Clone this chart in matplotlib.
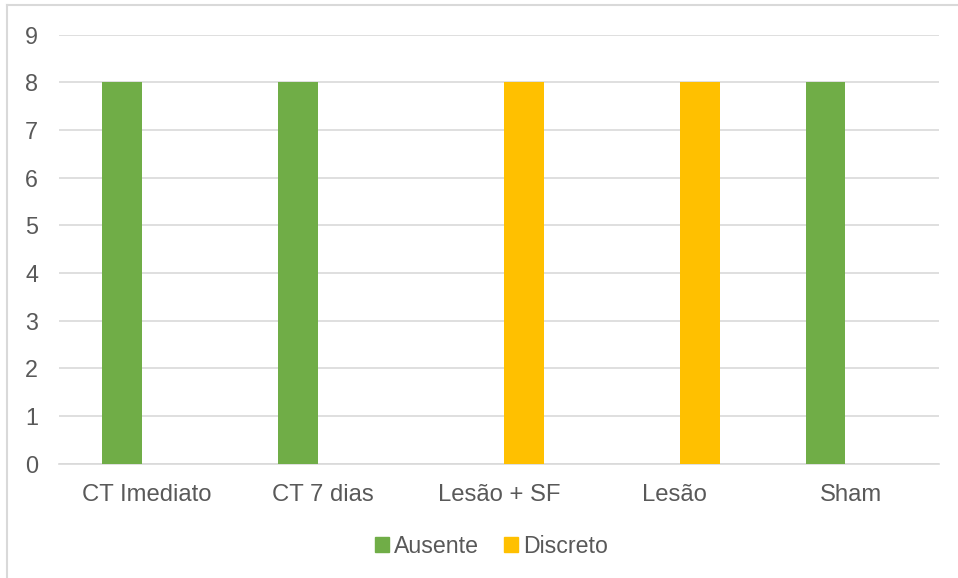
import matplotlib.pyplot as plt
import numpy as np
from matplotlib.lines import Line2D
from matplotlib.patches import Patch

categories = ['CT Imediato', 'CT 7 dias', 'Lesão + SF', 'Lesão', 'Sham']
ausente = [8, 8, 0, 0, 8]
discreto = [0, 0, 8, 8, 0]

plt.rcParams['font.family'] = ['Liberation Sans', 'DejaVu Sans']

GREEN = '#70AD47'
YELLOW = '#FFC000'
GRID = '#D9D9D9'
TEXT = '#595959'

fig = plt.figure(figsize=(9.58, 5.78), dpi=100)
ax = fig.add_axes([0.0616, 0.198, 0.9184, 0.742])

x = np.arange(len(categories))
width = 0.225
ax.bar(x - 0.143, ausente, width, color=GREEN, label='Ausente', zorder=3)
ax.bar(x + 0.143, discreto, width, color=YELLOW, label='Discreto', zorder=3)

ax.set_xlim(-0.5, len(categories) - 0.5)
ax.set_ylim(0, 9)
ax.set_yticks(range(0, 10))
ax.set_xticks(x)
ax.set_xticklabels(categories)
ax.yaxis.grid(True, color=GRID, linewidth=1.2, zorder=0)
ax.tick_params(axis='both', length=0, labelcolor=TEXT)
ax.tick_params(axis='y', pad=15, labelsize=16.8)
ax.tick_params(axis='x', pad=15, labelsize=17.2)
for side in ['top', 'right', 'left']:
    ax.spines[side].set_visible(False)
ax.spines['bottom'].set_color(GRID)
ax.spines['bottom'].set_linewidth(1.2)

handles = [Patch(color=GREEN, label='Ausente'), Patch(color=YELLOW, label='Discreto')]
leg = fig.legend(handles=handles, loc='center', bbox_to_anchor=(0.513, 0.055), ncol=2,
                 frameon=False, fontsize=16.7, handlelength=0.6, handleheight=0.6,
                 handletextpad=0.2, columnspacing=1.1)
for t in leg.get_texts():
    t.set_color(TEXT)

# chart area outline (top and left edges)
fig.add_artist(Line2D([0.0076, 1.0], [0.9905, 0.9905], color=GRID, linewidth=1.5))
fig.add_artist(Line2D([0.0076, 0.0076], [0.0, 0.9905], color=GRID, linewidth=1.5))

fig.savefig('out.png', dpi=100)
